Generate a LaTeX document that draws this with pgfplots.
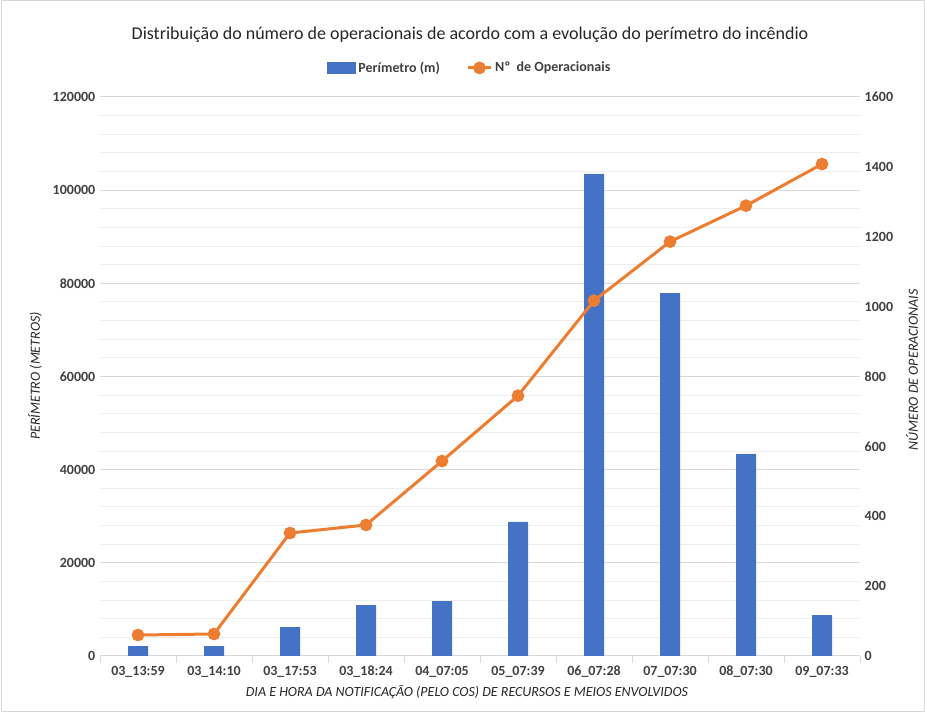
\documentclass[border=0pt]{standalone}
\usepackage{pgfplots}
\pgfplotsset{compat=1.18}
\usepackage{fontspec}
\setmainfont{Carlito}
\definecolor{barblue}{HTML}{4472C4}
\definecolor{lineorange}{HTML}{ED7D31}
\definecolor{txt}{HTML}{404040}
\definecolor{majgrid}{HTML}{D9D9D9}
\definecolor{mingrid}{HTML}{EEEEEE}

\pgfplotsset{
  common/.style={
    at={(75pt,42.75pt)}, anchor=south west,
    scale only axis, width=570pt, height=419.25pt,
    xmin=-0.5, xmax=9.5, ymin=0,
    scaled y ticks=false,
    yticklabel={\pgfmathprintnumber[fixed,precision=0,assume math mode=true,1000 sep={}]{\tick}},
    major tick length=0pt,
    tick label style={font=\bfseries\fontsize{10.5}{12}\selectfont, text=txt},
  }
}

\begin{document}
\begin{tikzpicture}[x=0.75pt,y=0.75pt]
\useasboundingbox (0,0) rectangle (925,713);
\draw[majgrid, line width=0.75pt] (1,1) rectangle (924,712);

% Perimeter bars (left axis)
\begin{axis}[common,
  ymax=120000,
  axis x line*=bottom, axis y line*=left,
  y axis line style={draw=none},
  x axis line style={draw=majgrid, line width=0.75pt},
  ytick={0,20000,...,120000}, minor y tick num=4,
  ymajorgrids, yminorgrids,
  major grid style={majgrid, line width=0.75pt},
  minor grid style={mingrid, line width=0.75pt},
  xtick={0,...,9},
  xticklabels={03\textunderscore13:59,03\textunderscore14:10,03\textunderscore17:53,03\textunderscore18:24,04\textunderscore07:05,05\textunderscore07:39,06\textunderscore07:28,07\textunderscore07:30,08\textunderscore07:30,09\textunderscore07:33},
  x tick label style={font=\fontsize{10.5}{12}\selectfont\bfseries, text=txt, yshift=-4pt},
  minor xtick={-0.5,0.5,...,9.5},
  minor tick length=5pt, tick align=outside,
  minor x tick style={draw=majgrid, line width=0.75pt},
  minor y tick style={draw=none},
  ybar, bar width=15pt,
]
\addplot[fill=barblue, draw=none, bar shift=0pt] coordinates {
  (0,2100) (1,2100) (2,6200) (3,10900) (4,11800)
  (5,28800) (6,103500) (7,77900) (8,43400) (9,8800)};
\end{axis}

% Number of personnel (right axis)
\begin{axis}[common,
  ymax=1600,
  axis x line=none, axis y line*=right,
  y axis line style={draw=none},
  ytick={0,200,...,1600},
  legend columns=2,
  legend style={at={(0.487,1.052)}, anchor=center, draw=none, fill=none,
    font=\bfseries\fontsize{10.5}{12}\selectfont, text=txt,
    /tikz/every even column/.append style={column sep=18pt}},
]
\addlegendimage{legend image code/.code={\fill[barblue] (0pt,-4pt) rectangle (21pt,4pt);}}
\addlegendentry{Perímetro (m)}
\addplot[lineorange, line width=2.25pt, mark=*, mark size=3.6pt, mark options={fill=lineorange}] coordinates {
  (0,60) (1,63) (2,352) (3,375) (4,558)
  (5,745) (6,1017) (7,1186) (8,1289) (9,1408)};
\addlegendentry{Nº\ \ de Operacionais}
\end{axis}

\node[font=\fontsize{13.5}{16}\selectfont, text=black!85] at (470,678)
  {Distribuição do número de operacionais de acordo com a evolução do perímetro do incêndio};
\node[rotate=90, font=\itshape\fontsize{10.5}{12}\selectfont, text=black!85] at (35,337)
  {PERÍMETRO (METROS)};
\node[rotate=90, font=\itshape\fontsize{10.5}{12}\selectfont, text=black!85] at (912,343)
  {NÚMERO DE OPERACIONAIS};
\node[font=\itshape\fontsize{10.5}{12}\selectfont, text=black!85] at (467,21)
  {DIA E HORA DA NOTIFICAÇÃO (PELO COS) DE RECURSOS E MEIOS ENVOLVIDOS};
\end{tikzpicture}
\end{document}
